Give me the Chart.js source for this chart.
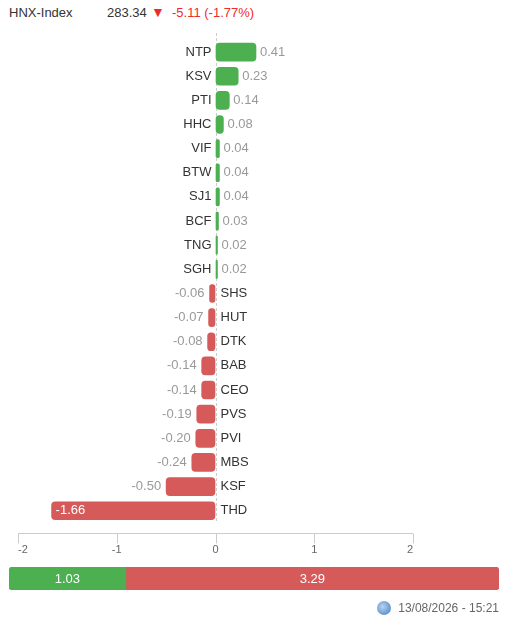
<!DOCTYPE html>
<html lang="vi">
<head>
<meta charset="UTF-8">
<title>HNX-Index</title>
<script src="https://cdn.jsdelivr.net/npm/chart.js"></script>
<style>
    * { margin: 0; padding: 0; }
    body {
        width: 506px;
        height: 627px;
        background: #fff;
        font-family: "Liberation Sans", Arial, Helvetica, sans-serif;
        position: relative;
        overflow: hidden;
    }
    .hdr { position: absolute; top: 5px; font-size: 13px; color: #333; white-space: nowrap; }
    .red { color: #ee2b2b; }
    .tri { top: 4px; font-size: 14px; }
    #mainBox { position: absolute; left: 0; top: 28px; width: 506px; height: 550px; }
    #sumBox { position: absolute; left: 0; top: 563px; width: 506px; height: 31px; }
    .rodape {
        position: absolute; right: 7px; top: 601px;
        font-size: 12px; color: #666; display: flex; align-items: center;
    }
    .globo {
        width: 14px; height: 14px; border-radius: 50%; margin-right: 7px;
        background: radial-gradient(circle at 40% 40%, #b9d3ef 0%, #6f9fd2 60%, #4e7fb8 100%);
    }
</style>
</head>
<body>
    <span class="hdr" style="left:9px">HNX-Index</span>
    <span class="hdr" id="idxValor" style="left:107px"></span>
    <span class="hdr red tri" style="left:151px">▼</span>
    <span class="hdr red" id="idxVar" style="left:172px"></span>

    <div id="mainBox"><canvas id="grafico"></canvas></div>
    <div id="sumBox"><canvas id="resumo"></canvas></div>

    <div class="rodape"><span class="globo"></span><span id="dataHora"></span></div>

<script>
    // dados do gráfico
    const indexValue = 283.34;
    const indexChange = -5.11;
    const indexPct = -1.77;
    const stamp = '13/08/2026 - 15:21';

    const codigos = ['NTP', 'KSV', 'PTI', 'HHC', 'VIF', 'BTW', 'SJ1', 'BCF', 'TNG', 'SGH',
                     'SHS', 'HUT', 'DTK', 'BAB', 'CEO', 'PVS', 'PVI', 'MBS', 'KSF', 'THD'];
    const impactos = [0.41, 0.23, 0.14, 0.08, 0.04, 0.04, 0.04, 0.03, 0.02, 0.02,
                      -0.06, -0.07, -0.08, -0.14, -0.14, -0.19, -0.20, -0.24, -0.50, -1.66];
    const xTicks = [-2, -1, 0, 1, 2];
    const totalAlta = 1.03;
    const totalBaixa = 3.29;

    const VERDE = '#4caf50';
    const VERMELHO = '#d65a5a';

    document.getElementById('idxValor').textContent = indexValue.toFixed(2);
    document.getElementById('idxVar').textContent = indexChange.toFixed(2) + ' (' + indexPct.toFixed(2) + '%)';
    document.getElementById('dataHora').textContent = stamp;

    // linha tracejada do zero, eixo e rótulos das barras
    const rotulosPlugin = {
        id: 'rotulos',
        beforeDatasetsDraw(chart) {
            const ctx = chart.ctx;
            const area = chart.chartArea;
            const x = chart.scales.x;
            const x0 = Math.round(x.getPixelForValue(0)) + 0.5;
            ctx.save();
            ctx.strokeStyle = '#cccccc';
            ctx.lineWidth = 1;
            ctx.setLineDash([3, 2]);
            ctx.beginPath();
            ctx.moveTo(x0, area.top - 7);
            ctx.lineTo(x0, area.bottom);
            ctx.stroke();
            ctx.setLineDash([]);
            // eixo inferior
            const yEixo = Math.round(area.bottom + 10) + 0.5;
            ctx.beginPath();
            ctx.moveTo(area.left, yEixo);
            ctx.lineTo(area.right, yEixo);
            x.ticks.forEach(t => {
                const px = Math.round(x.getPixelForValue(t.value)) + 0.5;
                ctx.moveTo(px, yEixo);
                ctx.lineTo(px, yEixo + 10);
            });
            ctx.stroke();
            ctx.restore();
        },
        afterDatasetsDraw(chart) {
            const ctx = chart.ctx;
            const area = chart.chartArea;
            const x0 = chart.scales.x.getPixelForValue(0);
            const meta = chart.getDatasetMeta(0);
            ctx.save();
            ctx.font = '13px "Liberation Sans", Arial, sans-serif';
            ctx.textBaseline = 'middle';
            meta.data.forEach((bar, i) => {
                const v = impactos[i];
                const y = bar.y;
                const txt = v.toFixed(2);
                ctx.fillStyle = '#333';
                if (v >= 0) {
                    ctx.textAlign = 'right';
                    ctx.fillText(codigos[i], x0 - 4, y);
                    ctx.fillStyle = '#999';
                    ctx.textAlign = 'left';
                    ctx.fillText(txt, bar.x + 4, y);
                } else {
                    ctx.textAlign = 'left';
                    ctx.fillText(codigos[i], x0 + 5, y);
                    const w = ctx.measureText(txt).width;
                    if (bar.x - 5 - w < area.left) {
                        ctx.fillStyle = '#fff';
                        ctx.fillText(txt, bar.x + 4, y);
                    } else {
                        ctx.fillStyle = '#999';
                        ctx.textAlign = 'right';
                        ctx.fillText(txt, bar.x - 5, y);
                    }
                }
            });
            ctx.restore();
        }
    };

    new Chart(document.getElementById('grafico'), {
        type: 'bar',
        data: {
            labels: codigos,
            datasets: [{
                data: impactos,
                backgroundColor: impactos.map(v => v >= 0 ? VERDE : VERMELHO),
                borderRadius: 4,
                borderSkipped: false,
                barThickness: 18
            }]
        },
        options: {
            indexAxis: 'y',
            responsive: true,
            maintainAspectRatio: false,
            animation: false,
            layout: { padding: { left: 18, right: 93, top: 12, bottom: 0 } },
            plugins: { legend: { display: false }, tooltip: { enabled: false } },
            scales: {
                x: {
                    min: xTicks[0],
                    max: xTicks[xTicks.length - 1],
                    afterBuildTicks: s => { s.ticks = xTicks.map(v => ({ value: v })); },
                    afterFit: s => { s.paddingLeft = 0; s.paddingRight = 0; },
                    grid: { display: true, drawOnChartArea: false, drawTicks: false },
                    border: { display: false },
                    ticks: {
                        align: 'inner',
                        padding: 21,
                        color: '#666',
                        font: { size: 11, family: '"Liberation Sans", Arial, sans-serif' }
                    }
                },
                y: { display: false }
            }
        },
        plugins: [rotulosPlugin]
    });

    // barra de resumo alta x baixa
    const resumoPlugin = {
        id: 'resumoTexto',
        afterDatasetsDraw(chart) {
            const ctx = chart.ctx;
            ctx.save();
            ctx.font = '13px "Liberation Sans", Arial, sans-serif';
            ctx.fillStyle = '#fff';
            ctx.textAlign = 'center';
            ctx.textBaseline = 'middle';
            chart.data.datasets.forEach((ds, i) => {
                const el = chart.getDatasetMeta(i).data[0];
                const c = el.getCenterPoint();
                ctx.fillText(ds.data[0].toFixed(2), c.x, c.y + 1);
            });
            ctx.restore();
        }
    };

    const raio = { topLeft: 4, topRight: 4, bottomLeft: 4, bottomRight: 4 };
    new Chart(document.getElementById('resumo'), {
        type: 'bar',
        data: {
            labels: ['total'],
            datasets: [
                { data: [totalAlta], backgroundColor: VERDE, borderRadius: raio, borderSkipped: 'end' },
                { data: [totalBaixa], backgroundColor: VERMELHO, borderRadius: raio, borderSkipped: 'start' }
            ]
        },
        options: {
            indexAxis: 'y',
            responsive: true,
            maintainAspectRatio: false,
            animation: false,
            layout: { padding: { left: 9, right: 7, top: 4, bottom: 4 } },
            datasets: { bar: { barPercentage: 1, categoryPercentage: 1 } },
            plugins: { legend: { display: false }, tooltip: { enabled: false } },
            scales: {
                x: { display: false, stacked: true, min: 0, max: totalAlta + totalBaixa },
                y: { display: false, stacked: true }
            }
        },
        plugins: [resumoPlugin]
    });
</script>
</body>
</html>
